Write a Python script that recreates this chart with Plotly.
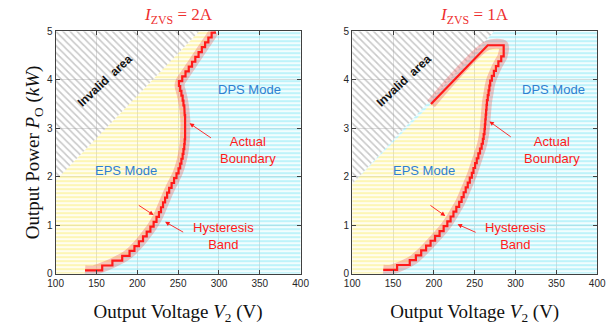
import plotly.graph_objects as go

# ---------------------------------------------------------------- axes
V_RANGE = [100, 400]
P_RANGE = [0, 5]
V_TICKS = [100, 150, 200, 250, 300, 350, 400]
P_TICKS = [0, 1, 2, 3, 4, 5]

# ---------------------------------------------------------------- I_ZVS = 2 A
# power level of every step of the measured EPS/DPS boundary (kW)
left_step_p = [0.07, 0.17, 0.27, 0.37, 0.47, 0.57, 0.67, 0.77, 0.87, 0.97,
               1.07, 1.17, 1.27, 1.37, 1.47, 1.57, 1.67, 1.77, 1.87, 1.97,
               2.07, 2.17, 2.27, 2.37, 2.47, 2.57, 2.67, 2.77, 2.87, 2.97,
               3.07, 3.17, 3.27, 3.37, 3.47, 3.57, 3.67, 3.77, 3.87, 3.97,
               4.07, 4.17, 4.27, 4.37, 4.47, 4.57, 4.67, 4.77, 4.87, 4.97]
# output voltage where every step starts (last entry: end of the last step)
left_step_v = [136, 157, 169.5, 181.5, 190.5, 196.5, 202, 207, 211.5, 216,
               220, 223.5, 226.5, 229, 231.5, 234, 236.5, 239, 242, 245,
               248, 250.5, 252.5, 254, 255.5, 256.5, 257.5, 258, 258.5, 258.5,
               259, 259, 258.5, 258, 257.5, 256.5, 255.5, 254, 252.5, 251,
               255, 259, 263, 267, 271, 275, 279, 283, 287, 291,
               295]
# limit of the feasible operating area
left_invalid_v = [100, 276]
left_invalid_p = [1.92, 5.0]

# ---------------------------------------------------------------- I_ZVS = 1 A
right_step_p = [0.08, 0.18, 0.28, 0.38, 0.48, 0.58, 0.68, 0.78, 0.88, 0.98,
                1.08, 1.18, 1.28, 1.38, 1.48, 1.58, 1.68, 1.78, 1.88, 1.98,
                2.08, 2.18, 2.28, 2.38, 2.48, 2.58, 2.68, 2.78, 2.88, 2.98,
                3.08, 3.18, 3.28, 3.38, 3.48, 3.58, 3.68, 3.78, 3.88, 3.98,
                4.08, 4.18, 4.28, 4.38, 4.48]
right_step_v = [138, 155, 170.5, 178, 184.5, 190.5, 196, 201.5, 207, 212,
                216.5, 220.5, 224, 227.5, 231, 234, 236.5, 239, 241.5, 244,
                246.5, 248.5, 250.5, 252.5, 254.5, 256.5, 258.5, 260, 261, 262,
                262.5, 263, 263.5, 264, 264.5, 265, 266, 267, 268, 269,
                271, 273.5, 276, 279, 282.5,
                285.5]
# closing part of the boundary near the feasibility limit
right_top_v = [285.5, 266, 196.5]
right_top_p = [4.71, 4.71, 3.5]
right_invalid_v = [100, 274]
right_invalid_p = [1.85, 5.0]

# ---------------------------------------------------------------- styling
RED = "#ff1a1a"
BLUE = "#2f7fd0"
SANS = "Liberation Sans, Arial, sans-serif"
SERIF = "Liberation Serif, Times New Roman, serif"
CLEAR = "rgba(0,0,0,0)"


def staircase(step_v, step_p):
    xs, ys = [], []
    for i, p in enumerate(step_p):
        xs += [step_v[i], step_v[i + 1]]
        ys += [p, p]
    return xs, ys


def tread_centres(step_v, step_p):
    xs = [step_v[0]]
    ys = [step_p[0]]
    for i, p in enumerate(step_p):
        xs.append((step_v[i] + step_v[i + 1]) / 2)
        ys.append(p)
    return xs, ys


def region(xs, ys, colour, shape, size, solidity, xa, ya):
    return go.Scatter(
        x=xs, y=ys, mode="none", fill="toself", fillcolor=CLEAR,
        fillpattern=dict(shape=shape, size=size, solidity=solidity,
                         fgcolor=colour, bgcolor=CLEAR),
        xaxis=xa, yaxis=ya, hoverinfo="skip", showlegend=False)


def band(xs, ys, xa, ya):
    return go.Scatter(
        x=xs, y=ys, mode="lines",
        line=dict(color="rgba(232,80,80,0.32)", width=10, shape="spline",
                  smoothing=0.8),
        xaxis=xa, yaxis=ya, hoverinfo="skip", showlegend=False)


def boundary(xs, ys, xa, ya):
    return go.Scatter(
        x=xs, y=ys, mode="lines", line=dict(color=RED, width=2.2),
        xaxis=xa, yaxis=ya, hoverinfo="skip", showlegend=False)


CYAN_STRIPES = ("#7ee8f5", "-", 4, 0.6)
YELLOW_STRIPES = ("#fbed6c", "-", 4, 0.6)
GREY_HATCH = ("#939393", "\\", 5, 0.32)

fig = go.Figure()

# ---- left panel
lx, ly = staircase(left_step_v, left_step_p)
lx.append(left_step_v[-1])
ly.append(P_RANGE[1])
fig.add_trace(region(lx + [V_RANGE[1], V_RANGE[1], lx[0]],
                     ly + [P_RANGE[1], P_RANGE[0], P_RANGE[0]],
                     *CYAN_STRIPES, "x", "y"))
fig.add_trace(region([V_RANGE[0], left_invalid_v[0], left_invalid_v[1]] + lx[::-1] + [lx[0]],
                     [P_RANGE[0], left_invalid_p[0], left_invalid_p[1]] + ly[::-1] + [P_RANGE[0]],
                     *YELLOW_STRIPES, "x", "y"))
fig.add_trace(region(left_invalid_v + [V_RANGE[0]],
                     left_invalid_p + [P_RANGE[1]],
                     *GREY_HATCH, "x", "y"))
bx, by = tread_centres(left_step_v, left_step_p)
fig.add_trace(band(bx + [left_step_v[-1]], by + [P_RANGE[1]], "x", "y"))
fig.add_trace(boundary(lx, ly, "x", "y"))

# ---- right panel
rx, ry = staircase(right_step_v, right_step_p)
rx += right_top_v
ry += right_top_p
fig.add_trace(region([right_invalid_v[0], right_invalid_v[1], V_RANGE[1], V_RANGE[1], rx[0]] + rx,
                     [right_invalid_p[0], right_invalid_p[1], P_RANGE[1], P_RANGE[0], P_RANGE[0]] + ry,
                     *CYAN_STRIPES, "x2", "y2"))
fig.add_trace(region([V_RANGE[0], right_invalid_v[0]] + rx[::-1] + [rx[0]],
                     [P_RANGE[0], right_invalid_p[0]] + ry[::-1] + [P_RANGE[0]],
                     *YELLOW_STRIPES, "x2", "y2"))
fig.add_trace(region(right_invalid_v + [V_RANGE[0]],
                     right_invalid_p + [P_RANGE[1]],
                     *GREY_HATCH, "x2", "y2"))
bx, by = tread_centres(right_step_v, right_step_p)
fig.add_trace(band(bx + right_top_v, by + right_top_p, "x2", "y2"))
fig.add_trace(boundary(rx, ry, "x2", "y2"))

# ---------------------------------------------------------------- axes
axis_common = dict(
    showgrid=True, gridcolor="#dcdcdc", gridwidth=1,
    ticks="inside", ticklen=4, tickcolor="#404040", tickwidth=1,
    showline=True, linecolor="#404040", linewidth=1, mirror="ticks",
    zeroline=False, tickfont=dict(family=SANS, size=10, color="#262626"),
    fixedrange=True,
)
x_title = dict(text="Output Voltage <i>V</i><sub>2</sub> (V)",
               font=dict(family=SERIF, size=19, color="#111111"), standoff=16)

fig.update_layout(
    width=613, height=335,
    margin=dict(l=0, r=0, t=0, b=0),
    paper_bgcolor="white", plot_bgcolor="white",
    xaxis=dict(domain=[49 / 613, 301 / 613], range=V_RANGE, tickvals=V_TICKS,
               title=x_title, anchor="y", **axis_common),
    yaxis=dict(domain=[58 / 335, 308 / 335], range=P_RANGE, tickvals=P_TICKS,
               anchor="x",
               title=dict(text="Output Power <i>P</i><sub>O</sub> (<i>kW</i>)",
                          font=dict(family=SERIF, size=19, color="#111111"),
                          standoff=2),
               **axis_common),
    xaxis2=dict(domain=[354 / 613, 606 / 613], range=V_RANGE, tickvals=V_TICKS,
                title=x_title, anchor="y2", **axis_common),
    yaxis2=dict(domain=[58 / 335, 308 / 335], range=P_RANGE, tickvals=P_TICKS,
                anchor="x2", **axis_common),
)

# ---------------------------------------------------------------- labels
def label(text, x, y, xa, ya, colour, size=13, angle=0, bold=False):
    return dict(text=f"<b>{text}</b>" if bold else text, x=x, y=y,
                xref=xa, yref=ya, showarrow=False, textangle=angle,
                font=dict(family=SANS, size=size, color=colour))


def arrow(x, y, ax, ay, xa, ya):
    return dict(text="", x=x, y=y, ax=ax, ay=ay, xref=xa, yref=ya,
                axref=xa, ayref=ya, showarrow=True, arrowhead=2,
                arrowsize=1, arrowwidth=0.9, arrowcolor=RED, standoff=0)


annotations = []
for xa, ya, i_zvs, dps_v, eps_v, inv_v, act_v, act_tip, act_tail, hys_v, hys_a, hys_b in [
    ("x", "y", "2A", 337, 186, 161, 335, (264, 3.1), (292, 2.78), 305,
     ((220, 1.21), (200, 1.43)), ((234, 1.07), (258, 0.84))),
    ("x2", "y2", "1A", 347, 188, 164, 345, (268, 3.14), (296, 2.8), 300,
     ((214, 1.19), (194, 1.43)), ((229, 1.02), (253, 0.84))),
]:
    annotations.append(dict(
        text=f"<i>I</i><sub>ZVS</sub> = {i_zvs}", x=0.5, y=1.0,
        xref=f"{xa} domain", yref=f"{ya} domain", xanchor="center",
        yanchor="bottom", yshift=2, showarrow=False,
        font=dict(family=SERIF, size=17, color="#ee2f2f")))
    annotations.append(label("DPS Mode", dps_v, 3.79, xa, ya, BLUE))
    annotations.append(label("EPS Mode", eps_v, 2.12, xa, ya, BLUE))
    annotations.append(label("Invalid\u00a0\u00a0area", inv_v, 3.99, xa, ya,
                             "#111111", size=12, angle=-43, bold=True))
    annotations.append(label("Actual<br>Boundary", act_v, 2.56, xa, ya, RED))
    annotations.append(arrow(*act_tip, *act_tail, xa, ya))
    annotations.append(label("Hysteresis<br>Band", hys_v, 0.77, xa, ya, RED))
    annotations.append(arrow(*hys_a[0], *hys_a[1], xa, ya))
    annotations.append(arrow(*hys_b[0], *hys_b[1], xa, ya))

fig.update_layout(annotations=annotations)

fig.write_html("out.html")
